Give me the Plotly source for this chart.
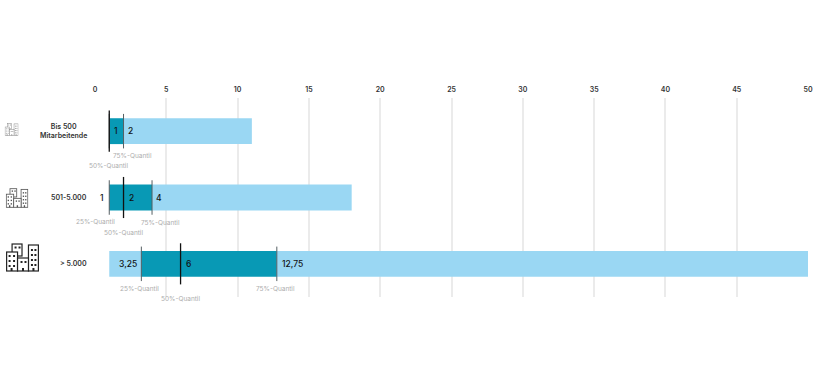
import base64
import plotly.graph_objects as go

categories = ["Bis 500<br>Mitarbeitende", "501-5.000", "> 5.000"]
minimum = [1, 1, 1]
q25 = [1, 1, 3.25]
q50 = [1, 2, 6]
q75 = [2, 4, 12.75]
maximum = [11, 18, 50]
axis_ticks = list(range(0, 51, 5))

value_labels = [
    [(1, "1", 7), (2, "2", 7)],
    [(1, "1", -7), (2, "2", 8), (4, "4", 7)],
    [(3.25, "3,25", -13), (6, "6", 8), (12.75, "12,75", 16)],
]
quantile_labels = [
    [("75%-Quantil", 2, 9, 25), ("50%-Quantil", 1, -1, 35)],
    [("25%-Quantil", 1, -14, 24), ("50%-Quantil", 2, 0, 35), ("75%-Quantil", 4, 8, 25)],
    [("25%-Quantil", 3.25, -2, 25), ("50%-Quantil", 6, 0, 35), ("75%-Quantil", 12.75, -1, 25)],
]

DARK = "#0899b5"
LIGHT = "#9ad7f3"
FONT = "Inter, Roboto, sans-serif"
rows = list(range(len(categories)))

fig = go.Figure()
fig.add_bar(y=rows, base=minimum, x=[b - a for a, b in zip(minimum, q25)],
            orientation="h", marker=dict(color=LIGHT, line_width=0), width=0.39, hoverinfo="skip")
fig.add_bar(y=rows, base=q25, x=[b - a for a, b in zip(q25, q75)],
            orientation="h", marker=dict(color=DARK, line_width=0), width=0.39, hoverinfo="skip")
fig.add_bar(y=rows, base=q75, x=[b - a for a, b in zip(q75, maximum)],
            orientation="h", marker=dict(color=LIGHT, line_width=0), width=0.39, hoverinfo="skip")


def vlines(values, half, color, width):
    xs, ys = [], []
    for r, v in zip(rows, values):
        xs += [v, v, None]
        ys += [r - half, r + half, None]
    fig.add_scatter(x=xs, y=ys, mode="lines", line=dict(color=color, width=width), hoverinfo="skip")


vlines(q25, 0.26, "#555f63", 1)
vlines(q75, 0.26, "#555f63", 1)
vlines(q50, 0.31, "#111111", 1.3)

annotations = []
for r, cat in zip(rows, categories):
    annotations.append(dict(x=0, y=r, xref="x", yref="y", text=cat, showarrow=False, xanchor="right",
                            align="center", xshift=-6, font=dict(family=FONT, size=7, color="#333333", weight=600)))
    for v, txt, shift in value_labels[r]:
        annotations.append(dict(x=v, y=r, xref="x", yref="y", text=txt, showarrow=False, xshift=shift,
                                font=dict(family=FONT, size=8.5, color="#111111", weight=500)))
    for txt, v, xs, ys in quantile_labels[r]:
        annotations.append(dict(x=v, y=r, xref="x", yref="y", text=txt, showarrow=False, xshift=xs, yshift=-ys,
                                font=dict(family=FONT, size=6.5, color="#adadad")))

svg = """<svg xmlns='http://www.w3.org/2000/svg' viewBox='0 0 34 29'>
<g fill='white' stroke='COL' stroke-width='1.2'>
<rect x='6.5' y='1' width='10' height='12'/><rect x='23' y='2' width='10' height='26'/>
<rect x='1' y='9' width='11' height='19'/><rect x='12' y='15' width='11' height='13'/></g>
<g fill='COL'>
<rect x='9' y='3.5' width='2' height='2'/><rect x='13' y='3.5' width='2' height='2'/>
<rect x='3' y='12' width='2' height='2'/><rect x='7.5' y='12' width='2' height='2'/>
<rect x='3' y='17' width='2' height='2'/><rect x='7.5' y='17' width='2' height='2'/>
<rect x='3' y='22' width='2' height='2'/><rect x='7.5' y='22' width='2' height='2'/>
<rect x='15' y='18' width='2' height='2'/><rect x='19' y='18' width='2' height='2'/>
<rect x='25.5' y='6' width='2' height='2'/><rect x='29' y='6' width='2' height='2'/>
<rect x='25.5' y='11' width='2' height='2'/><rect x='29' y='11' width='2' height='2'/>
<rect x='25.5' y='16' width='2' height='2'/><rect x='29' y='16' width='2' height='2'/>
<rect x='25.5' y='21' width='2' height='2'/><rect x='29' y='21' width='2' height='2'/>
<rect x='5' y='25' width='2' height='3'/><rect x='16.5' y='25' width='2' height='3'/><rect x='27' y='25' width='2' height='3'/>
</g></svg>"""


def icon(color):
    data = svg.replace("COL", color).replace("\n", "")
    return "data:image/svg+xml;base64," + base64.b64encode(data.encode()).decode()


L, R, T, B = 95, 7, 98, 93
PW, PH = 820 - L - R, 390 - T - B
images = []
for px, py, w, h, col in [(4, 123, 14, 13, "#8a8a8a"), (5, 188, 23, 20, "#555555"), (5, 243, 34, 29, "#222222")]:
    images.append(dict(source=icon(col), xref="paper", yref="paper", x=(px - L) / PW, y=1 - (py - T) / PH,
                       sizex=w / PW, sizey=h / PH, xanchor="left", yanchor="top", sizing="stretch", layer="above"))

fig.update_layout(
    width=820, height=390, margin=dict(l=L, r=R, t=T, b=B, pad=0), barmode="overlay", showlegend=False,
    paper_bgcolor="white", plot_bgcolor="white", annotations=annotations, images=images,
    font=dict(family=FONT),
    xaxis=dict(side="top", range=[0, 50], tickvals=axis_ticks, showgrid=True, gridcolor="#ebebeb", gridwidth=1.5,
               zeroline=False, showline=False, ticks="", ticklabelstandoff=4,
               tickfont=dict(family=FONT, size=7, color="#333333", weight=600)),
    yaxis=dict(range=[2.5, -0.5], showgrid=False, zeroline=False, showticklabels=False, ticks=""),
)
fig.write_html("out.html", config={"displayModeBar": False}, post_script="document.body.style.margin='0';")
